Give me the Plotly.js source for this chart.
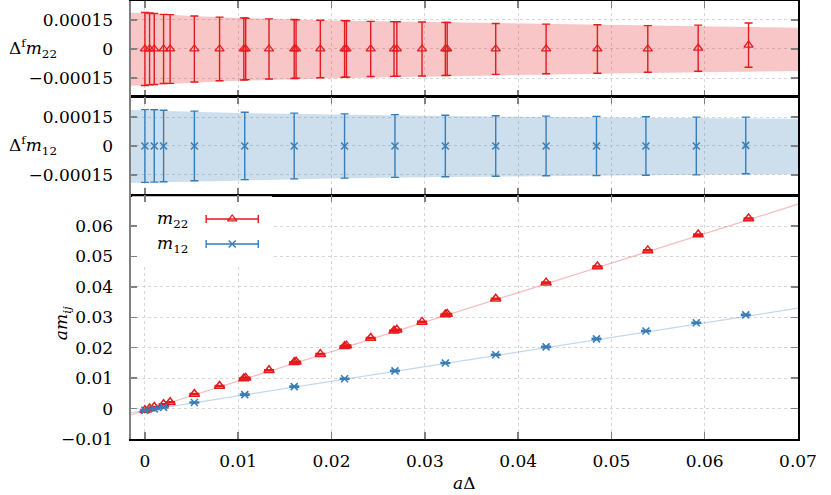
<!DOCTYPE html>
<html>
<head>
<meta charset="utf-8">
<script src="https://cdn.plot.ly/plotly-3.0.1.min.js"></script>
<style>
  html, body { margin: 0; padding: 0; background: #fff; }
  #chart { width: 831px; height: 495px; }
</style>
</head>
<body>
<div id="chart"></div>
<script>
// aΔ values of the m22 ensembles (some lattices overlap almost exactly)
const redX = [0, 0.0005, 0.001, 0.002, 0.0027, 0.0053, 0.008, 0.0106, 0.0108, 0.0133,
  0.016, 0.0162, 0.0188, 0.0214, 0.0216, 0.0242, 0.0267, 0.027, 0.0297, 0.0322,
  0.0324, 0.0376, 0.043, 0.0485, 0.0539, 0.0593, 0.0647];
const redM = [-0.0005, 0.0, 0.0005, 0.0014, 0.0021, 0.0048, 0.0074, 0.0099, 0.0101, 0.0126,
  0.0152, 0.0154, 0.0179, 0.0205, 0.0207, 0.0232, 0.0256, 0.0259, 0.0285, 0.0309,
  0.0311, 0.0361, 0.0414, 0.0467, 0.0520, 0.0572, 0.0625];
const redRes = [0, 0, 0, 0, 0, 0, 0, 0, 0, 0, 0, 0, 0, 0, 0, 0, 0, 0, 0, 0,
  0, 0, 0, 0, 0, 0.000004, 0.00002];
const redErr = [0.000188, 0.000185, 0.000183, 0.000178, 0.000177, 0.00017, 0.000164, 0.00016, 0.000158, 0.000155,
  0.000152, 0.00015, 0.000148, 0.000146, 0.000145, 0.000142, 0.000141, 0.00014, 0.000139, 0.000137,
  0.000136, 0.000131, 0.000128, 0.000125, 0.00012, 0.000119, 0.000114];

// m12 ensembles
const blueX = [0, 0.001, 0.002, 0.0053, 0.0107, 0.016, 0.0214, 0.0268, 0.0322, 0.0376,
  0.043, 0.0484, 0.0537, 0.0591, 0.0644];
const blueM = [-0.0006, -0.0001, 0.0004, 0.002, 0.0046, 0.0072, 0.0098, 0.0124, 0.015, 0.0177,
  0.0203, 0.0229, 0.0255, 0.0282, 0.0308];
const blueRes = [0, 0, 0, 0, 0, 0, 0, 0, 0, 0, 0, 0, 0, 0, 0.000003];
const blueErr = [0.000189, 0.000188, 0.000186, 0.000181, 0.000175, 0.000171, 0.000167, 0.000163, 0.00016, 0.000157,
  0.000155, 0.000154, 0.000152, 0.00015, 0.000147];

// fit error bands (residual panels)
const bandX = [-0.0016, 0, 0.005, 0.01, 0.02, 0.03, 0.04, 0.05, 0.06, 0.07];
const redBandHi = [0.000186, 0.000184, 0.00017, 0.00016, 0.000147, 0.000139, 0.000131, 0.000124, 0.000117, 0.000109];
const redBandLo = [-0.00019, -0.000188, -0.000174, -0.000164, -0.000151, -0.000142, -0.000134, -0.000127, -0.00012, -0.000113];
const blueBandHi = [0.000187, 0.000185, 0.000178, 0.000172, 0.000164, 0.000157, 0.000152, 0.000148, 0.000145, 0.000142];
const blueBandLo = [-0.000193, -0.000191, -0.000184, -0.000178, -0.000169, -0.000162, -0.000157, -0.000153, -0.00015, -0.000147];

// linear fits
const fitX = [-0.0016, 0.07];
const fitRed = [-0.0022, 0.0672];
const fitBlue = [-0.0014, 0.033];

// ticks
const xTicks = [0, 0.01, 0.02, 0.03, 0.04, 0.05, 0.06, 0.07];
const xTickText = ["0", "0.01", "0.02", "0.03", "0.04", "0.05", "0.06", "0.07"];
const resTicks = [-0.00015, 0, 0.00015];
const resTickText = ["\u22120.00015", "0", "0.00015"];
const mTicks = [-0.01, 0, 0.01, 0.02, 0.03, 0.04, 0.05, 0.06];
const mTickText = ["\u22120.01", "0", "0.01", "0.02", "0.03", "0.04", "0.05", "0.06"];

const RED = "#e41a1c";
const BLUE = "#377eb8";
const FONT = "DejaVu Serif";
const FS = 17;
const X_RANGE = [-0.0016, 0.07];
const M_RANGE = [-0.01, 0.0702];

const traces = [
  // top: Δf m22
  { x: bandX, y: redBandLo, xaxis: "x", yaxis: "y", mode: "lines", line: { width: 0 }, hoverinfo: "skip" },
  { x: bandX, y: redBandHi, xaxis: "x", yaxis: "y", mode: "lines", line: { width: 0 },
    fill: "tonexty", fillcolor: "rgba(228,26,28,0.25)", hoverinfo: "skip" },
  { x: redX, y: redRes, xaxis: "x", yaxis: "y", mode: "markers",
    marker: { symbol: "triangle-up-open", size: 8, color: RED, line: { width: 1.3, color: RED } },
    error_y: { type: "data", array: redErr, color: RED, thickness: 1.4, width: 4 } },

  // middle: Δf m12
  { x: bandX, y: blueBandLo, xaxis: "x2", yaxis: "y2", mode: "lines", line: { width: 0 }, hoverinfo: "skip" },
  { x: bandX, y: blueBandHi, xaxis: "x2", yaxis: "y2", mode: "lines", line: { width: 0 },
    fill: "tonexty", fillcolor: "rgba(55,126,184,0.25)", hoverinfo: "skip" },
  { x: blueX, y: blueRes, xaxis: "x2", yaxis: "y2", mode: "markers",
    marker: { symbol: "x-thin-open", size: 7, color: BLUE, line: { width: 1.5, color: BLUE } },
    error_y: { type: "data", array: blueErr, color: BLUE, thickness: 1.4, width: 4 } },

  // bottom: a m_ij
  { x: fitX, y: fitRed, xaxis: "x3", yaxis: "y3", mode: "lines", line: { color: "rgba(228,26,28,0.3)", width: 1.2 } },
  { x: fitX, y: fitBlue, xaxis: "x3", yaxis: "y3", mode: "lines", line: { color: "rgba(55,126,184,0.3)", width: 1.2 } },
  { x: redX, y: redM, xaxis: "x3", yaxis: "y3", mode: "markers",
    marker: { symbol: "triangle-up-open", size: 9, color: RED, line: { width: 1.5, color: RED } },
    error_y: { type: "constant", value: 0.0002, color: RED, thickness: 1.4, width: 5 } },
  { x: blueX, y: blueM, xaxis: "x3", yaxis: "y3", mode: "markers",
    marker: { symbol: "x-thin-open", size: 7, color: BLUE, line: { width: 1.6, color: BLUE } },
    error_y: { type: "constant", value: 0.0002, color: BLUE, thickness: 1.4, width: 5 } },

  // legend samples (gnuplot style: label, then error-bar key)
  { x: [0.153], y: [0.902], xaxis: "x4", yaxis: "y4", mode: "markers",
    marker: { symbol: "triangle-up-open", size: 8, color: RED, line: { width: 1.3, color: RED } },
    error_x: { type: "constant", value: 0.039, color: RED, thickness: 1.4, width: 4 } },
  { x: [0.153], y: [0.799], xaxis: "x4", yaxis: "y4", mode: "markers",
    marker: { symbol: "x-thin-open", size: 7, color: BLUE, line: { width: 1.5, color: BLUE } },
    error_x: { type: "constant", value: 0.039, color: BLUE, thickness: 1.4, width: 4 } },
];

const xBase = {
  range: X_RANGE, tickvals: xTicks, ticktext: xTickText,
  ticks: "inside", ticklen: 7, tickwidth: 1.5, tickcolor: "#808080",
  showline: true, linecolor: "#000", linewidth: 1.5, mirror: "ticks",
  showgrid: true, gridcolor: "#d6d6d6", griddash: "dot", gridwidth: 1, zeroline: false,
  tickfont: { family: FONT, size: FS, color: "#000" },
};
const yBase = {
  ticks: "inside", ticklen: 7, tickwidth: 1.5, tickcolor: "#808080",
  showline: true, linecolor: "#000", linewidth: 1.5, mirror: "ticks",
  showgrid: true, gridcolor: "#d6d6d6", griddash: "dot", gridwidth: 1, zeroline: false,
  tickfont: { family: FONT, size: FS, color: "#000" }, ticklabelstandoff: 12,
};

// key box in x3/y3 units, as a fraction of the panel
const xSpan = X_RANGE[1] - X_RANGE[0];
const mSpan = M_RANGE[1] - M_RANGE[0];

const layout = {
  width: 831, height: 495,
  margin: { l: 130, r: 33, t: 1, b: 56 },
  paper_bgcolor: "#fff", plot_bgcolor: "#fff",
  showlegend: false,
  font: { family: FONT, size: FS, color: "#000" },
  xaxis: { ...xBase, anchor: "y", showticklabels: false },
  xaxis2: { ...xBase, anchor: "y2", showticklabels: false },
  xaxis3: { ...xBase, anchor: "y3", ticklabelstandoff: 6 },
  xaxis4: { overlaying: "x3", range: [0, 1], visible: false },
  yaxis: { ...yBase, domain: [0.781, 1], anchor: "x", range: [-0.000247, 0.000247],
    tickvals: resTicks, ticktext: resTickText },
  yaxis2: { ...yBase, domain: [0.557, 0.781], anchor: "x2", range: [-0.000255, 0.000255],
    tickvals: resTicks, ticktext: resTickText },
  yaxis3: { ...yBase, domain: [0, 0.557], anchor: "x3", range: M_RANGE,
    tickvals: mTicks, ticktext: mTickText },
  yaxis4: { overlaying: "y3", range: [0, 1], visible: false },
  shapes: [
    // key box hides the grid behind the legend
    { type: "rect", xref: "x3", yref: "y3",
      x0: X_RANGE[0] + 0.003 * xSpan, x1: X_RANGE[0] + 0.2126 * xSpan,
      y0: M_RANGE[0] + 0.713 * mSpan, y1: M_RANGE[0] + 0.995 * mSpan,
      fillcolor: "#fff", line: { width: 0 }, layer: "between" },
    // grey left spine
    { type: "line", xref: "paper", yref: "paper", x0: 0, x1: 0, y0: 0, y1: 1,
      line: { color: "#808080", width: 2 }, layer: "above" },
  ],
  annotations: [
    { xref: "paper", yref: "paper", x: -0.184, y: 0.891, xanchor: "left", yanchor: "middle",
      text: "\u0394<sup>f</sup><i>m</i><sub>22</sub>", showarrow: false, font: { family: FONT, size: FS } },
    { xref: "paper", yref: "paper", x: -0.184, y: 0.669, xanchor: "left", yanchor: "middle",
      text: "\u0394<sup>f</sup><i>m</i><sub>12</sub>", showarrow: false, font: { family: FONT, size: FS } },
    { xref: "paper", yref: "paper", x: -0.10, y: 0.265, xanchor: "center", yanchor: "middle", textangle: -90,
      text: "<i>am</i><sub><i>ij</i></sub>", showarrow: false, font: { family: FONT, size: FS } },
    { xref: "paper", yref: "paper", x: 0.5, y: -0.1, xanchor: "center", yanchor: "middle",
      text: "<i>a</i>\u0394", showarrow: false, font: { family: FONT, size: FS } },
    { xref: "paper", yref: "paper", x: 0.037, y: 0.502, xanchor: "left", yanchor: "middle",
      text: "<i>m</i><sub>22</sub>", showarrow: false, font: { family: FONT, size: FS } },
    { xref: "paper", yref: "paper", x: 0.037, y: 0.445, xanchor: "left", yanchor: "middle",
      text: "<i>m</i><sub>12</sub>", showarrow: false, font: { family: FONT, size: FS } },
  ],
};

Plotly.newPlot("chart", traces, layout, { displayModeBar: false, staticPlot: true });
</script>
</body>
</html>
